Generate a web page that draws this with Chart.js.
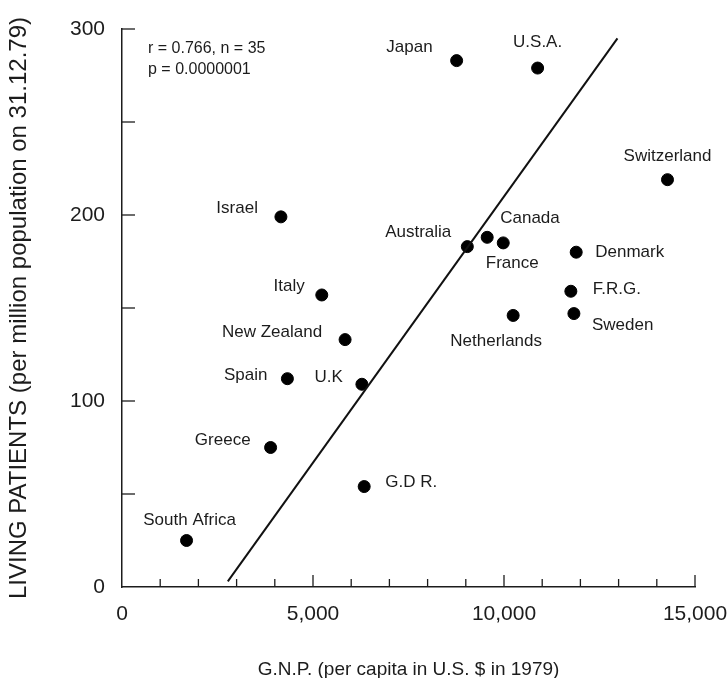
<!DOCTYPE html>
<html>
<head>
<meta charset="utf-8">
<script src="https://cdn.jsdelivr.net/npm/chart.js@4.4.0/dist/chart.umd.min.js"></script>
<style>
  html, body { margin: 0; padding: 0; background: #fff; }
  #box { width: 727px; height: 678px; }
</style>
</head>
<body>
<div id="box"><canvas id="myChart"></canvas></div>
<script>
// values
const countries = ['Japan', 'U.S.A.', 'Switzerland', 'Israel', 'Australia', 'Canada', 'France', 'Denmark',
    'F.R.G.', 'Sweden', 'Netherlands', 'Italy', 'New Zealand', 'Spain', 'U.K', 'Greece', 'G.D R.', 'South Africa'];
const gnp = [8760, 10880, 14280, 4160, 9040, 9560, 9980, 11890, 11750, 11830, 10240, 5230, 5840, 4330, 6280, 3890, 6340, 1690];
const patients = [283, 279, 219, 199, 183, 188, 185, 180, 159, 147, 146, 157, 133, 112, 109, 75, 54, 25];

// regression line end points
const fitGnp = [2770, 12970];
const fitPatients = [3, 295];

const xLabelTicks = [0, 5000, 10000, 15000];
const yLabelTicks = [0, 100, 200, 300];
const statsText = ['r = 0.766, n = 35', 'p = 0.0000001'];

const FONT = "'Liberation Sans', Arial, sans-serif";
const INK = '#1c1c1c';

// where each country name sits next to its dot: dx, dy, align
const labelPlace = {
    'Japan': [-24, -13, 'right'],
    'U.S.A.': [0, -26, 'center'],
    'Switzerland': [0, -23, 'center'],
    'Israel': [-23, -9, 'right'],
    'Australia': [-16, -14, 'right'],
    'Canada': [13, -19, 'left'],
    'France': [9, 20, 'center'],
    'Denmark': [19, 0, 'left'],
    'F.R.G.': [22, -2, 'left'],
    'Sweden': [18, 12, 'left'],
    'Netherlands': [-17, 26, 'center'],
    'Italy': [-17, -9, 'right'],
    'New Zealand': [-23, -7, 'right'],
    'Spain': [-20, -3, 'right'],
    'U.K': [-19, -7, 'right'],
    'Greece': [-20, -7, 'right'],
    'G.D R.': [21, -4, 'left'],
    'South Africa': [3, -20, 'center']
};

let points = gnp.map((g, i) => ({x: g, y: patients[i]}));
let fitLine = fitGnp.map((g, i) => ({x: g, y: fitPatients[i]}));

// ticks point into the plot, so draw them ourselves from the scales
const innerTicks = {
    id: 'innerTicks',
    afterDraw(chart) {
        const ctx = chart.ctx;
        const xs = chart.scales.x, ys = chart.scales.y;
        const area = chart.chartArea;
        ctx.save();
        ctx.strokeStyle = INK;
        ctx.lineWidth = 1.3;
        for (const t of xs.ticks) {
            if (t.value === 0) continue;
            const px = xs.getPixelForValue(t.value);
            const len = xLabelTicks.includes(t.value) ? 12 : 8;
            ctx.beginPath();
            ctx.moveTo(px, area.bottom);
            ctx.lineTo(px, area.bottom - len);
            ctx.stroke();
        }
        for (const t of ys.ticks) {
            if (t.value === 0) continue;
            const py = ys.getPixelForValue(t.value);
            ctx.beginPath();
            ctx.moveTo(area.left, py);
            ctx.lineTo(area.left + 13, py);
            ctx.stroke();
        }
        ctx.restore();
    }
};

const countryLabels = {
    id: 'countryLabels',
    afterDatasetsDraw(chart) {
        const ctx = chart.ctx;
        const meta = chart.getDatasetMeta(1);
        ctx.save();
        ctx.fillStyle = INK;
        ctx.font = '17px ' + FONT;
        ctx.textBaseline = 'middle';
        meta.data.forEach((el, i) => {
            const p = labelPlace[countries[i]];
            ctx.textAlign = p[2];
            ctx.fillText(countries[i], el.x + p[0], el.y + p[1]);
        });
        // statistics note in the top left corner
        const area = chart.chartArea;
        ctx.textAlign = 'left';
        ctx.font = '16px ' + FONT;
        ctx.fillText(statsText[0], area.left + 26, area.top + 20);
        ctx.fillText(statsText[1], area.left + 26, area.top + 41);
        ctx.restore();
    }
};

const ctx = document.getElementById('myChart');

let chart = new Chart(ctx, {
    type: 'scatter',
    data: {
        datasets: [{
            label: 'fit',
            data: fitLine,
            showLine: true,
            borderColor: '#111',
            borderWidth: 2,
            pointRadius: 0
        }, {
            label: 'countries',
            data: points,
            backgroundColor: '#000',
            borderColor: '#000',
            pointRadius: 6,
            pointHoverRadius: 6
        }]
    },
    options: {
        maintainAspectRatio: false,
        responsive: true,
        animation: false,
        layout: {
            padding: {top: 29, right: 32, left: 0, bottom: 0}
        },
        plugins: {
            legend: {display: false},
            tooltip: {enabled: false}
        },
        scales: {
            x: {
                type: 'linear',
                min: 0,
                max: 15000,
                afterFit(scale) {
                    scale.height = 91;
                    scale.paddingLeft = 0;
                    scale.paddingRight = 0;
                },
                border: {color: INK, width: 1.5},
                grid: {display: false, drawTicks: false},
                ticks: {
                    stepSize: 1000,
                    autoSkip: false,
                    maxRotation: 0,
                    padding: 15,
                    color: INK,
                    font: {family: FONT, size: 21},
                    callback: v => xLabelTicks.includes(v) ? v.toLocaleString('en-US') : ''
                },
                title: {
                    display: true,
                    text: 'G.N.P. (per capita in U.S. $ in 1979)',
                    color: INK,
                    font: {family: FONT, size: 19},
                    padding: {top: 0, bottom: -3}
                }
            },
            y: {
                type: 'linear',
                min: 0,
                max: 300,
                afterFit(scale) {
                    scale.width = 122;
                    scale.paddingTop = 0;
                    scale.paddingBottom = 0;
                },
                border: {color: INK, width: 1.5},
                grid: {display: false, drawTicks: false},
                ticks: {
                    stepSize: 50,
                    autoSkip: false,
                    padding: 17,
                    color: INK,
                    font: {family: FONT, size: 21},
                    callback: v => yLabelTicks.includes(v) ? v : ''
                },
                title: {
                    display: true,
                    text: 'LIVING PATIENTS (per million population on 31.12.79)',
                    color: INK,
                    font: {family: FONT, size: 24},
                    padding: {top: 5, bottom: 0}
                }
            }
        }
    },
    plugins: [innerTicks, countryLabels]
});
</script>
</body>
</html>
